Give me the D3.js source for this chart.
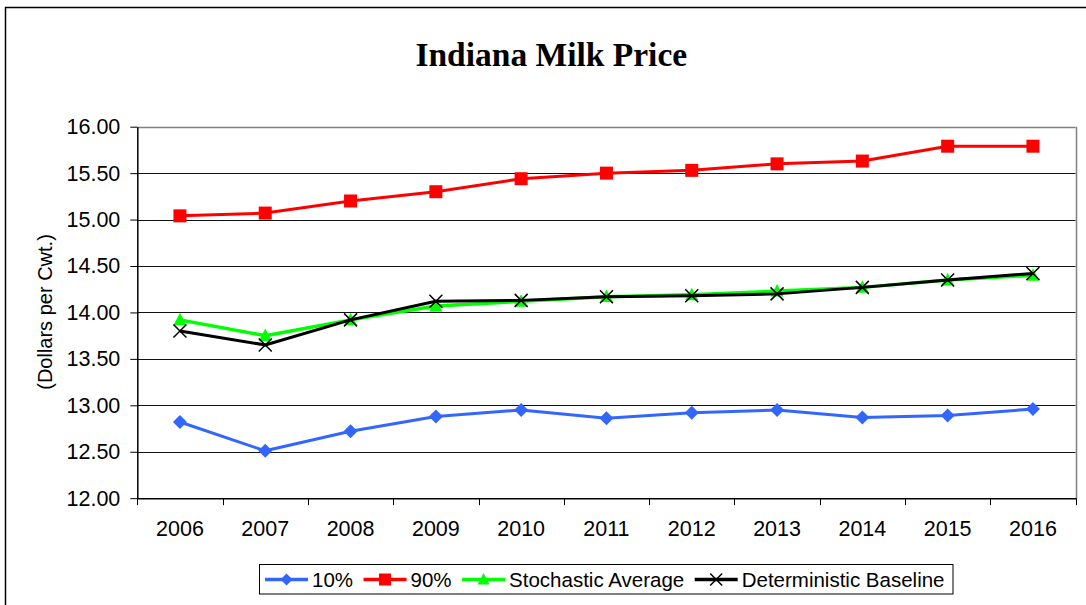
<!DOCTYPE html>
<html>
<head>
<meta charset="utf-8">
<script src="https://cdn.jsdelivr.net/npm/d3@7"></script>
<style>
  html, body { margin: 0; padding: 0; background: #fff; }
  svg { display: block; }
  text { font-family: "Liberation Sans", Arial, sans-serif; fill: #000; }
</style>
</head>
<body>
<svg id="chart" width="1086" height="605"></svg>
<script>
const years = ["2006","2007","2008","2009","2010","2011","2012","2013","2014","2015","2016"];
const p10 = [12.82, 12.51, 12.72, 12.88, 12.95, 12.86, 12.92, 12.95, 12.87, 12.89, 12.96];
const p90 = [15.04, 15.07, 15.20, 15.30, 15.44, 15.50, 15.53, 15.60, 15.63, 15.79, 15.79];
const stochAvg = [13.92, 13.75, 13.92, 14.07, 14.12, 14.17, 14.19, 14.23, 14.27, 14.35, 14.40];
const detBase = [13.80, 13.65, 13.92, 14.12, 14.13, 14.17, 14.18, 14.20, 14.27, 14.35, 14.42];
const yTicks = [12.0, 12.5, 13.0, 13.5, 14.0, 14.5, 15.0, 15.5, 16.0];
const seriesNames = ["10%", "90%", "Stochastic Average", "Deterministic Baseline"];

const series = [
  { name: seriesNames[0], values: p10, color: "#3366FF", marker: "diamond", width: 3 },
  { name: seriesNames[1], values: p90, color: "#FF0000", marker: "square", width: 3 },
  { name: seriesNames[2], values: stochAvg, color: "#00FF00", marker: "triangle", width: 3.5 },
  { name: seriesNames[3], values: detBase, color: "#000000", marker: "x", width: 3 }
];

const svg = d3.select("#chart");
const L = 137.3, R = 1075.6, T = 126.7, B = 498.2;

// outer chart border
svg.append("rect").attr("x", 5.5).attr("y", 7.5).attr("width", 1100).attr("height", 620)
  .attr("fill", "none").attr("stroke", "#000").attr("stroke-width", 1.5);

// title
svg.append("text").attr("x", 551.3).attr("y", 65.7).attr("text-anchor", "middle")
  .style("font-family", "'Liberation Serif', 'Times New Roman', serif")
  .style("font-weight", "bold").style("font-size", "33.5px").text("Indiana Milk Price");

const x = d3.scaleBand().domain(years).range([L, R]).padding(0);
const y = d3.scaleLinear().domain([12, 16]).range([B, T]);

// gridlines
svg.append("g").selectAll("line").data(yTicks.filter(v => v > 12 && v < 16)).join("line")
  .attr("x1", L).attr("x2", R).attr("y1", d => Math.round(y(d)) + 0.5).attr("y2", d => Math.round(y(d)) + 0.5)
  .attr("stroke", "#111").attr("stroke-width", 1);

// plot area border (top and right) gray
svg.append("line").attr("x1", L).attr("x2", R).attr("y1", Math.round(T) + 0.5).attr("y2", Math.round(T) + 0.5)
  .attr("stroke", "#808080").attr("stroke-width", 1.5);
svg.append("line").attr("x1", Math.round(R) + 0.5).attr("x2", Math.round(R) + 0.5).attr("y1", T).attr("y2", B)
  .attr("stroke", "#808080").attr("stroke-width", 1.5);

// y axis
const yAxis = svg.append("g").attr("transform", `translate(${L},0)`)
  .call(d3.axisLeft(y).tickValues(yTicks).tickFormat(d3.format(".2f")).tickSize(7).tickSizeOuter(0).tickPadding(10));
yAxis.select(".domain").attr("stroke", "#000").attr("stroke-width", 1.5);
yAxis.selectAll(".tick line").attr("stroke", "#000").attr("stroke-width", 1);
yAxis.selectAll("text").style("font-size", "21.5px").style("font-family", "'Liberation Sans', Arial, sans-serif").attr("fill", "#000");

// x axis
const xAxis = svg.append("g").attr("transform", `translate(0,${B})`)
  .call(d3.axisBottom(x).tickSize(0).tickSizeOuter(0).tickPadding(23));
xAxis.select(".domain").attr("stroke", "#000").attr("stroke-width", 1.5);
xAxis.selectAll("text").style("font-size", "21.5px").style("font-family", "'Liberation Sans', Arial, sans-serif").attr("fill", "#000");
// boundary tick marks
const bounds = years.map(c => x(c)).concat([x(years[years.length - 1]) + x.bandwidth()]);
xAxis.append("g").selectAll("line").data(bounds).join("line")
  .attr("x1", d => Math.round(d) + 0.5).attr("x2", d => Math.round(d) + 0.5).attr("y1", 0).attr("y2", 7)
  .attr("stroke", "#000").attr("stroke-width", 1);

// y axis title
svg.append("text").attr("transform", "translate(45,312) rotate(-90)")
  .attr("text-anchor", "middle").attr("dominant-baseline", "central")
  .style("font-size", "20px").text("(Dollars per Cwt.)");

function drawMarker(g, type, cx, cy, color, s) {
  if (type === "diamond") {
    g.append("path").attr("d", `M${cx},${cy - s/2}L${cx + s/2},${cy}L${cx},${cy + s/2}L${cx - s/2},${cy}Z`)
      .attr("fill", color);
  } else if (type === "square") {
    g.append("rect").attr("x", cx - s/2).attr("y", cy - s/2).attr("width", s).attr("height", s).attr("fill", color);
  } else if (type === "triangle") {
    g.append("path").attr("d", `M${cx},${cy - s*0.55}L${cx + s/2},${cy + s*0.42}L${cx - s/2},${cy + s*0.42}Z`)
      .attr("fill", color);
  } else if (type === "x") {
    const h = s / 2;
    g.append("path").attr("d", `M${cx - h},${cy - h}L${cx + h},${cy + h}M${cx - h},${cy + h}L${cx + h},${cy - h}`)
      .attr("stroke", "#000").attr("stroke-width", 1.5).attr("fill", "none");
  }
}

const cx = c => x(c) + x.bandwidth() / 2;
const lineGen = d3.line().x((d, i) => cx(years[i])).y(d => y(d));

series.forEach(s => {
  const g = svg.append("g");
  g.append("path").attr("d", lineGen(s.values)).attr("fill", "none")
    .attr("stroke", s.color).attr("stroke-width", s.width).attr("stroke-linejoin", "round");
  s.values.forEach((v, i) => drawMarker(g, s.marker, cx(years[i]), y(v), s.color, s.marker === "diamond" ? 14 : 13));
});

// legend
const lg = svg.append("g");
lg.append("rect").attr("x", 259.5).attr("y", 564.5).attr("width", 693.5).attr("height", 29.5)
  .attr("fill", "#fff").attr("stroke", "#000").attr("stroke-width", 1);
let lx = 265;
const ly = 579.5;
series.forEach(s => {
  lg.append("line").attr("x1", lx).attr("x2", lx + 43).attr("y1", ly).attr("y2", ly)
    .attr("stroke", s.color).attr("stroke-width", 3.5);
  drawMarker(lg, s.marker, lx + 21.5, ly, s.color, 12);
  const t = lg.append("text").attr("x", lx + 47).attr("y", 587.3).style("font-size", "20.5px").text(s.name);
  lx = lx + 47 + t.node().getComputedTextLength() + 10.5;
});
</script>
</body>
</html>
